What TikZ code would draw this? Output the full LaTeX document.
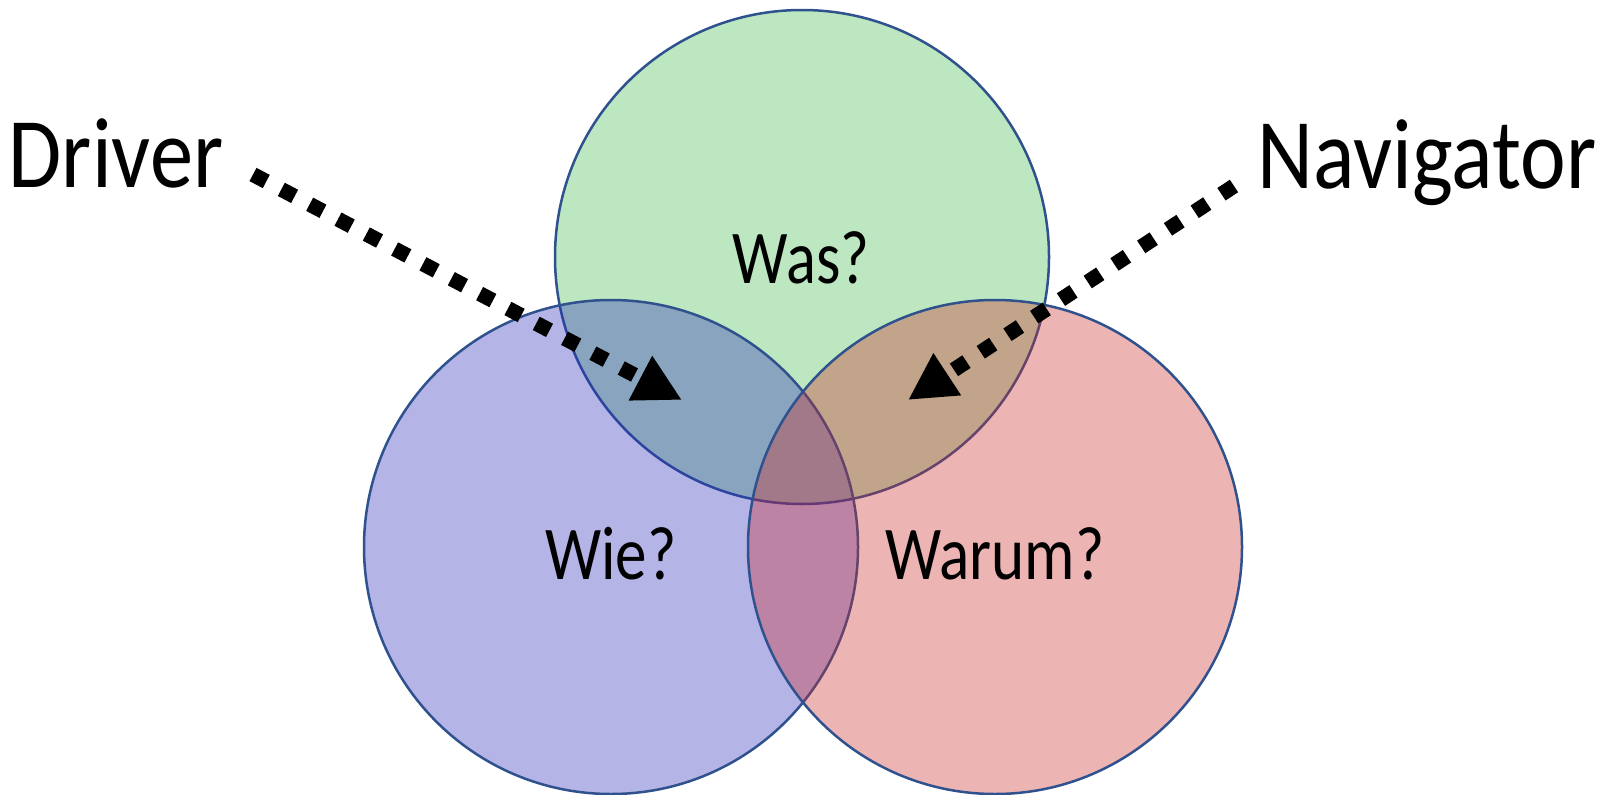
\documentclass[tikz,border=0pt]{standalone}
\usepackage{fontspec}
\setmainfont{Carlito}
\usetikzlibrary{arrows.meta}
\definecolor{setgreen}{RGB}{66,189,75}
\definecolor{setblue}{RGB}{41,41,189}
\definecolor{setred}{RGB}{206,41,41}
\definecolor{rim}{RGB}{47,82,143}
\begin{document}
\begin{tikzpicture}[x=1pt,y=-1pt,
  setcircle/.style={circle, minimum size=494pt, inner sep=0pt, draw=rim,
    line width=2.5pt, fill opacity=0.35, draw opacity=1},
  setlabel/.style={anchor=base, inner sep=0pt, font=\fontsize{76}{76}\selectfont},
  rolelabel/.style={anchor=base, inner sep=0pt, font=\fontsize{100}{100}\selectfont},
  pointer/.style={line width=15pt, dash pattern=on 15pt off 17pt,
    -{Triangle[length=47pt,width=47pt]}}]
  \fill[white] (0,0) rectangle (1612,795);
  \useasboundingbox (0,0) rectangle (1612,795);

  % the three sets, drawn back to front
  \node[setcircle, fill=setgreen] (was) at (802,257) {};
  \node[setcircle, fill=setblue]  (wie) at (611,547) {};
  \node[setcircle, fill=setred]   (warum) at (995,547) {};

  % set names
  \node[setlabel] (wastext)   at (801,283) {\scalebox{0.82}[1]{Was?}};
  \node[setlabel] (wietext)   at (611,579) {\scalebox{0.83}[1]{Wie?}};
  \node[setlabel] (warumtext) at (995,579) {\scalebox{0.83}[1]{Warum?}};

  % roles
  \node[rolelabel] (driver)    at (116,187) {\scalebox{0.865}[1]{Driver}};
  \node[rolelabel] (navigator) at (1427,188) {\scalebox{0.865}[1]{Navigator}};

  % dotted pointers into the overlaps
  \coordinate (drvstart) at (253,174.5);
  \coordinate (drvtip)   at (682,400);
  \coordinate (navstart) at (1234,186);
  \coordinate (navtip)   at (908,400);
  \draw[pointer] (drvstart) -- (drvtip);
  \draw[pointer] (navstart) -- (navtip);
\end{tikzpicture}
\end{document}
